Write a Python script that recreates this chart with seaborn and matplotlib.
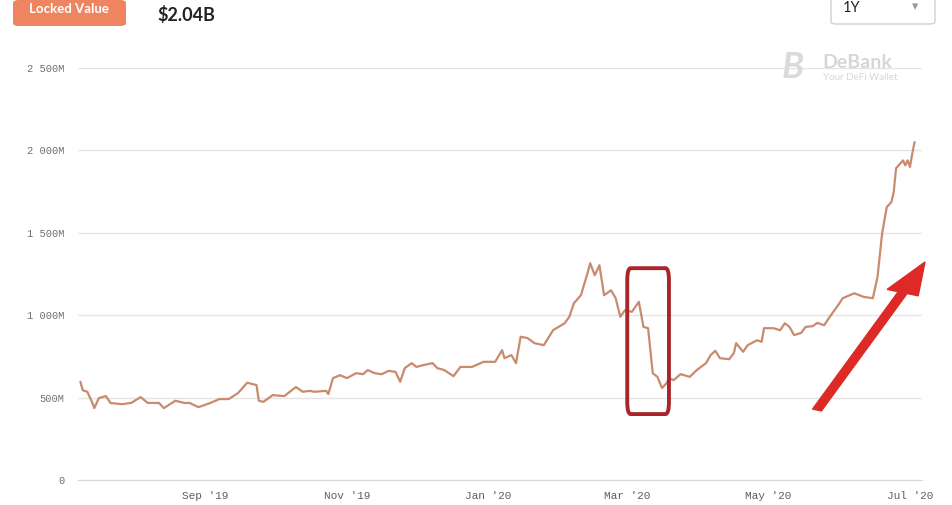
import numpy as np
import pandas as pd
import seaborn as sns
import matplotlib.pyplot as plt
import matplotlib.dates as mdates
from matplotlib.patches import FancyBboxPatch, FancyArrow
from matplotlib.ticker import FuncFormatter

# data (locked value, millions USD)
dates = ['2019-07-09', '2019-07-10', '2019-07-12', '2019-07-14', '2019-07-15', '2019-07-17',
         '2019-07-20', '2019-07-22', '2019-07-27', '2019-07-31', '2019-08-04', '2019-08-07',
         '2019-08-12', '2019-08-14', '2019-08-19', '2019-08-23', '2019-08-25', '2019-08-29',
         '2019-09-03', '2019-09-07', '2019-09-11', '2019-09-15', '2019-09-19', '2019-09-23',
         '2019-09-24', '2019-09-26', '2019-09-30', '2019-10-05', '2019-10-10', '2019-10-13',
         '2019-10-16', '2019-10-18', '2019-10-23', '2019-10-24', '2019-10-26', '2019-10-29',
         '2019-11-01', '2019-11-05', '2019-11-08', '2019-11-10', '2019-11-13', '2019-11-16',
         '2019-11-19', '2019-11-22', '2019-11-24', '2019-11-26', '2019-11-29', '2019-12-01',
         '2019-12-04', '2019-12-08', '2019-12-10', '2019-12-13', '2019-12-17', '2019-12-20',
         '2019-12-25', '2019-12-30', '2020-01-04', '2020-01-07', '2020-01-08', '2020-01-11',
         '2020-01-13', '2020-01-15', '2020-01-18', '2020-01-21', '2020-01-25', '2020-01-29',
         '2020-02-03', '2020-02-05', '2020-02-07', '2020-02-10', '2020-02-13', '2020-02-14',
         '2020-02-16', '2020-02-18', '2020-02-20', '2020-02-23', '2020-02-25', '2020-02-27',
         '2020-02-29', '2020-03-03', '2020-03-06', '2020-03-08', '2020-03-10', '2020-03-12',
         '2020-03-14', '2020-03-16', '2020-03-18', '2020-03-19', '2020-03-21', '2020-03-24',
         '2020-03-28', '2020-03-31', '2020-04-04', '2020-04-06', '2020-04-08', '2020-04-10',
         '2020-04-14', '2020-04-16', '2020-04-17', '2020-04-20', '2020-04-22', '2020-04-26',
         '2020-04-28', '2020-04-29', '2020-05-03', '2020-05-06', '2020-05-08', '2020-05-10',
         '2020-05-12', '2020-05-15', '2020-05-17', '2020-05-20', '2020-05-22', '2020-05-25',
         '2020-05-27', '2020-05-31', '2020-06-02', '2020-06-07', '2020-06-11', '2020-06-15',
         '2020-06-17', '2020-06-19', '2020-06-21', '2020-06-23', '2020-06-24', '2020-06-25',
         '2020-06-28', '2020-06-29', '2020-06-30', '2020-07-01', '2020-07-02', '2020-07-03']
values = [596, 545, 535, 474, 436, 497,
          509, 467, 460, 468, 503, 468,
          467, 436, 481, 467, 468, 442,
          467, 491, 491, 527, 590, 576,
          481, 474, 515, 509, 564, 535,
          541, 535, 541, 521, 618, 636,
          618, 648, 642, 667, 648, 642,
          662, 656, 596, 679, 709, 686,
          697, 709, 679, 667, 630, 686,
          686, 717, 717, 788, 739, 758,
          709, 869, 861, 830, 818, 909,
          951, 990, 1073, 1121, 1262, 1315,
          1242, 1303, 1121, 1151, 1103, 990,
          1030, 1020, 1081, 929, 921, 648,
          626, 558, 588, 618, 606, 642,
          626, 667, 709, 758, 784, 739,
          733, 770, 830, 778, 818, 848,
          838, 921, 921, 909, 951, 929,
          879, 892, 929, 933, 953, 939,
          982, 1061, 1103, 1133, 1111, 1103,
          1232, 1497, 1656, 1686, 1747, 1891,
          1939, 1909, 1939, 1899, 1980, 2050]

y_ticks = [0, 500, 1000, 1500, 2000, 2500]
x_ticks = ['2019-09-01', '2019-11-01', '2020-01-01', '2020-03-01', '2020-05-01', '2020-07-01']
x_labels = ["Sep '19", "Nov '19", "Jan '20", "Mar '20", "May '20", "Jul '20"]

df = pd.DataFrame({'date': pd.to_datetime(dates), 'tvl': values})

sns.set_style('white')
plt.rcParams['font.family'] = ['Lato', 'DejaVu Sans']

fig = plt.figure(figsize=(9.52, 5.05), dpi=100)
ax = fig.add_axes([0.082, 0.0495, 0.886, 0.816])

sns.lineplot(data=df, x='date', y='tvl', ax=ax, color='#c98a6e', linewidth=1.6)

ax.set_xlim(pd.Timestamp('2019-07-08'), pd.Timestamp('2020-07-06'))
ax.set_ylim(0, 2500)
ax.set_yticks(y_ticks)
ax.yaxis.set_major_formatter(FuncFormatter(
    lambda v, p: '0' if v == 0 else '{:,.0f}M'.format(v).replace(',', ' ')))
ax.set_xticks(pd.to_datetime(x_ticks))
ax.set_xticklabels(x_labels)
ax.grid(axis='y', color='#e4e4e4', linewidth=1)
ax.grid(axis='x', visible=False)
for s in ['top', 'right', 'left']:
    ax.spines[s].set_visible(False)
ax.spines['bottom'].set_color('#d8d8d8')
ax.tick_params(axis='y', length=0, pad=10, labelsize=7.5, labelcolor='#707070')
ax.tick_params(axis='x', length=7, width=1, color='#d0d0d0', pad=1, labelsize=8,
               labelcolor='#606060', direction='out')
for lab in ax.get_xticklabels() + ax.get_yticklabels():
    lab.set_family('Liberation Mono')
ax.set_xlabel('')
ax.set_ylabel('')

# red box around March drop
x0 = mdates.date2num(pd.Timestamp('2020-03-01'))
x1 = mdates.date2num(pd.Timestamp('2020-03-19'))
box = FancyBboxPatch((x0, 400), x1 - x0, 885, boxstyle='round,pad=0,rounding_size=1.5',
                     fill=False, edgecolor='#a8262a', linewidth=2.8, zorder=5,
                     mutation_aspect=50)
ax.add_patch(box)

# red arrow
fig.patches.append(FancyArrow(817 / 952, 1 - 410 / 505, (925 - 817) / 952, -(262 - 410) / 505,
                              width=0.01, head_width=0.035, head_length=0.065,
                              length_includes_head=True, color='#dd2a26',
                              transform=fig.transFigure, figure=fig, zorder=6))

# header elements
fig.patches.append(FancyBboxPatch((13 / 952, 1 - 26 / 505), 113 / 952, 26 / 505,
                                  boxstyle='round,pad=0,rounding_size=0.006',
                                  facecolor='#ee8460', edgecolor='none',
                                  transform=fig.transFigure, figure=fig))
fig.text(69 / 952, 1 - 9 / 505, 'Locked Value', color='white', fontsize=9.5,
         fontweight='bold', ha='center', va='center')
fig.text(157 / 952, 1 - 15 / 505, '$2.04B', color='#222222', fontsize=13,
         fontweight='bold', ha='left', va='center')
fig.patches.append(FancyBboxPatch((831 / 952, 1 - 24 / 505), 104 / 952, 30 / 505,
                                  boxstyle='round,pad=0,rounding_size=0.005',
                                  facecolor='white', edgecolor='#d0d0d0', linewidth=1,
                                  transform=fig.transFigure, figure=fig))
fig.text(843 / 952, 1 - 8 / 505, '1Y', color='#222222', fontsize=10.5,
         ha='left', va='center')
fig.text(915 / 952, 1 - 7 / 505, '▾', color='#999999', fontsize=9,
         ha='center', va='center', family='DejaVu Sans')

# DeBank watermark
fig.text(793 / 952, 1 - 67 / 505, 'B', color='#dadada', fontsize=26, fontweight='bold',
         ha='center', va='center', style='italic')
fig.text(822 / 952, 1 - 62 / 505, 'DeBank', color='#d6d6d6', fontsize=14,
         fontweight='bold', ha='left', va='center')
fig.text(823 / 952, 1 - 78 / 505, 'Your DeFi Wallet', color='#d6d6d6', fontsize=7,
         ha='left', va='center')

fig.savefig('out.png', dpi=100)
